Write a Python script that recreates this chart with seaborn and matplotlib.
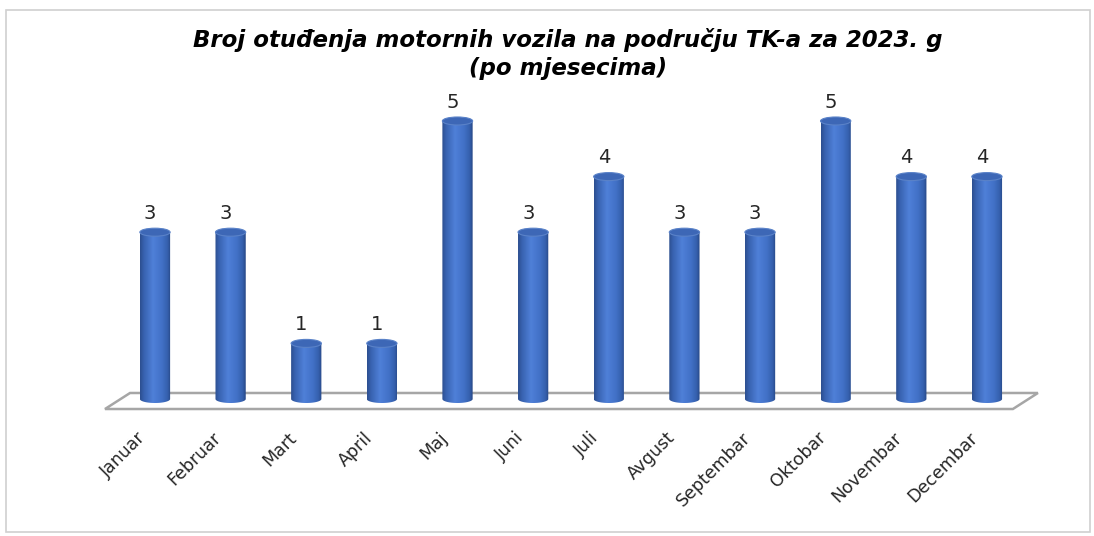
import numpy as np
import pandas as pd
import matplotlib
matplotlib.use("Agg")
import matplotlib.pyplot as plt
import seaborn as sns
from matplotlib.patches import Ellipse, Polygon, PathPatch, Rectangle
from matplotlib.path import Path
from matplotlib.colors import LinearSegmentedColormap
from matplotlib.transforms import ScaledTranslation

# ---- data ----
months = ["Januar", "Februar", "Mart", "April", "Maj", "Juni", "Juli",
          "Avgust", "Septembar", "Oktobar", "Novembar", "Decembar"]
values = [3, 3, 1, 1, 5, 3, 4, 3, 3, 5, 4, 4]
title_line1 = "Broj otuđenja motornih vozila na području TK-a za 2023. g"
title_line2 = "(po mjesecima)"

sns.set_theme(style="white")
plt.rcParams['font.family'] = ['DejaVu Sans']

fig = plt.figure(figsize=(10.94, 5.36), dpi=100)
ax = fig.add_axes([0.1071, 0.2556, 0.8296, 0.6224])

df = pd.DataFrame({"Mjesec": months, "Broj": values})
sns.barplot(data=df, x="Mjesec", y="Broj", ax=ax, width=0.4,
            color="#4472C4", saturation=1, zorder=3)
ax.set_xlim(-0.5, 11.5)
ax.set_ylim(0, 6)

# ellipse height in data units (cylinder perspective)
px_per_unit = ax.get_window_extent().height / 6.0
eh = 8.0 / px_per_unit

cmap = LinearSegmentedColormap.from_list(
    "cyl", [(0.0, "#2c4f90"), (0.12, "#3862b0"), (0.42, "#4f80d8"),
            (0.72, "#4170c6"), (0.9, "#3560ad"), (1.0, "#274785")])
grad = np.linspace(0, 1, 64).reshape(1, -1)

for p in list(ax.patches):
    x, w, h = p.get_x(), p.get_width(), p.get_height()
    cx = x + w / 2
    p.set_alpha(0)
    t = np.linspace(0, np.pi, 40)
    arc = np.column_stack([cx + (w / 2) * np.cos(t), -(eh / 2) * np.sin(t)])
    verts = np.vstack([[[x, h], [x + w, h], [x + w, 0]], arc, [[x, 0], [x, h]]])
    path = Path(verts)
    im = ax.imshow(grad, extent=(x, x + w, -eh / 2, h), aspect="auto",
                   cmap=cmap, zorder=3, interpolation="bilinear")
    clip = PathPatch(path, transform=ax.transData, fc="none", ec="none")
    im.set_clip_path(clip)
    im.set_clip_box(fig.bbox)
    ax.add_patch(Ellipse((cx, h), w, eh, fc="#3d67b6", ec="#5a82c8",
                         lw=0.8, zorder=4))
    ax.annotate(str(int(round(h))), (cx, h), xytext=(-3.5, 13.5),
                textcoords="offset points", ha="center", va="center",
                fontsize=14, color="#262626", zorder=5)

ax.set_xlim(-0.5, 11.5)
ax.set_ylim(0, 6)

# floor of the 3D plot
floor = Polygon([(-0.661, -0.18), (11.343, -0.18), (11.674, 0.108), (-0.33, 0.108)],
                closed=True, fc="white", ec="#a6a6a6", lw=1.8, zorder=2,
                clip_on=False)
ax.add_patch(floor)

for s in ax.spines.values():
    s.set_visible(False)
ax.set_yticks([])
ax.set_xlabel("")
ax.set_ylabel("")
ax.tick_params(axis="x", length=0, pad=26)
ax.set_xticks(range(len(months)))
ax.set_xticklabels(months, rotation=45, ha="right", rotation_mode="anchor",
                   va="center", fontsize=12.5, color="#262626")
off = ScaledTranslation(-9 / 72, 0, fig.dpi_scale_trans)
for lbl in ax.get_xticklabels():
    lbl.set_transform(lbl.get_transform() + off)

for txt, ypx in ((title_line1, 40), (title_line2, 68)):
    fig.text(0.519, 1 - ypx / 536, txt, ha="center", va="center",
             fontsize=16.5, fontweight="bold", fontstyle="italic",
             family=["DejaVu Sans"], color="black")

fig.patches.append(Rectangle((6 / 1094, 4 / 536), 1084 / 1094, 522 / 536,
                             transform=fig.transFigure, fill=False,
                             ec="#d0d0d0", lw=1.2))

fig.savefig("out.png", dpi=100)
